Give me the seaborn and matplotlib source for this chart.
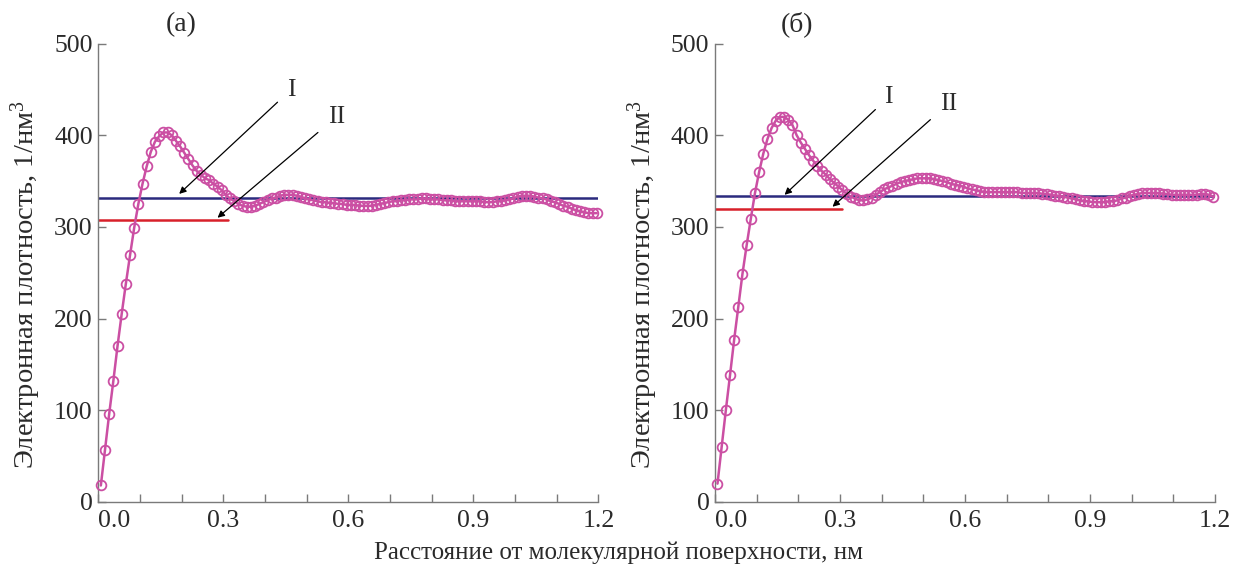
import numpy as np
import pandas as pd
import matplotlib
matplotlib.use("Agg")
import matplotlib.pyplot as plt
import seaborn as sns

# ---------------- data ----------------
x_start = 0.006
x_step = 0.01
n_points = 120
distance = np.round(x_start + x_step * np.arange(n_points), 4)

density_a = [
    18, 57, 96, 132, 170, 205, 238, 269, 299, 325,
    347, 366, 382, 393, 399, 403, 403, 400, 394, 388,
    381, 374, 367, 361, 357, 353, 351, 347, 344, 340,
    335, 331, 328, 325, 323, 322, 322, 323, 325, 327,
    329, 331, 332, 334, 335, 335, 335, 334, 333, 331,
    330, 329, 328, 327, 327, 326, 326, 325, 325, 324,
    324, 324, 323, 323, 323, 323, 324, 325, 326, 327,
    328, 328, 329, 329, 330, 330, 330, 331, 331, 330,
    330, 330, 329, 329, 329, 328, 328, 328, 328, 328,
    328, 328, 327, 327, 327, 328, 328, 329, 330, 331,
    333, 334, 334, 334, 333, 332, 331, 330, 328, 327,
    325, 323, 322, 320, 318, 317, 316, 315, 315, 315,
]

density_b = [
    20, 60, 100, 138, 177, 213, 249, 280, 309, 337,
    360, 380, 396, 408, 416, 420, 420, 417, 411, 400,
    392, 385, 378, 372, 366, 361, 357, 352, 348, 344,
    340, 336, 333, 331, 329, 329, 330, 332, 335, 338,
    341, 343, 345, 347, 349, 350, 351, 352, 353, 353,
    353, 353, 352, 351, 350, 349, 347, 346, 345, 344,
    342, 341, 340, 339, 338, 338, 338, 338, 338, 338,
    338, 338, 338, 337, 337, 337, 337, 337, 336, 336,
    335, 334, 334, 333, 332, 331, 330, 329, 328, 328,
    327, 327, 327, 327, 328, 328, 329, 331, 332, 334,
    335, 336, 337, 337, 337, 337, 337, 336, 336, 335,
    335, 335, 335, 335, 335, 335, 336, 336, 335, 333,
]

# reference levels: (value, x_end)
level_I = {"a": (332, 1.2), "b": (334, 1.2)}
level_II = {"a": (308, 0.31), "b": (320, 0.305)}

panel_titles = {"a": "(а)", "b": "(б)"}
x_ticks = [0.0, 0.3, 0.6, 0.9, 1.2]
x_tick_labels = ["0.0", "0.3", "0.6", "0.9", "1.2"]
y_ticks = [0, 100, 200, 300, 400, 500]

# annotation geometry (data coords): text pos, arrow start, arrow end
ann = {
    "a": {"I": ((0.452, 449), (0.43, 436), (0.194, 336)),
          "II": ((0.552, 420), (0.527, 403), (0.286, 310))},
    "b": {"I": ((0.405, 442), (0.385, 428), (0.167, 335)),
          "II": ((0.54, 434), (0.517, 417), (0.282, 322))},
}

ylabel = "Электронная плотность, 1/нм$^3$"
xlabel = "Расстояние от молекулярной поверхности, нм"

# ---------------- style ----------------
sns.set_theme(style="ticks")
plt.rcParams["font.family"] = ["Liberation Serif", "DejaVu Serif"]
plt.rcParams["mathtext.fontset"] = "custom"
plt.rcParams["mathtext.rm"] = "Liberation Serif"
plt.rcParams["mathtext.it"] = "Liberation Serif"

curve_color = "#cb4fa3"
blue_color = "#2b2a7e"
red_color = "#d8202a"
axis_color = "#7a7a7a"
text_color = "#2a2a2a"

fig = plt.figure(figsize=(12.37, 5.66), dpi=100)
ax_a = fig.add_axes([0.0795, 0.1131, 0.4042, 0.81])
ax_b = fig.add_axes([0.578, 0.1131, 0.4042, 0.81])

df_a = pd.DataFrame({"x": distance, "y": density_a})
df_b = pd.DataFrame({"x": distance, "y": density_b})

for key, ax, df in (("a", ax_a, df_a), ("b", ax_b, df_b)):
    vI, eI = level_I[key]
    vII, eII = level_II[key]
    ax.plot([0, eI], [vI, vI], color=blue_color, lw=1.8, zorder=2)
    ax.plot([0, eII], [vII, vII], color=red_color, lw=1.8, zorder=2)

    sns.lineplot(data=df, x="x", y="y", ax=ax, color=curve_color,
                 linewidth=1.8, marker="o", markersize=7,
                 markerfacecolor="none", markeredgecolor=curve_color,
                 markeredgewidth=1.3, clip_on=False, zorder=3)

    ax.set_xlim(0, 1.2)
    ax.set_ylim(0, 500)
    ax.set_xticks(x_ticks)
    ax.set_xticklabels(x_tick_labels)
    ax.set_xticks(np.arange(0.1, 1.2, 0.1), minor=True)
    ax.set_yticks(y_ticks)
    ax.tick_params(axis="both", which="both", direction="in",
                   color=axis_color, labelsize=18.5, labelcolor=text_color,
                   width=1.0)
    ax.tick_params(axis="x", which="major", pad=6)
    ax.tick_params(axis="y", which="major", pad=4)
    ax.tick_params(axis="both", which="major", length=6)
    ax.tick_params(axis="x", which="minor", length=6)
    for s in ("top", "right"):
        ax.spines[s].set_visible(False)
    for s in ("left", "bottom"):
        ax.spines[s].set_color(axis_color)
        ax.spines[s].set_linewidth(1.0)
    ax.set_xlabel("")
    ax.set_ylabel(ylabel, fontsize=20.5, color=text_color)
    ax.yaxis.set_label_coords(-0.11, 0.475)
    ax.xaxis.get_majorticklabels()[0].set_horizontalalignment("left")

    ax.text(0.165, 1.015, panel_titles[key], transform=ax.transAxes,
            ha="center", va="bottom", fontsize=20, color=text_color)

    for lab, (tpos, start, end) in ann[key].items():
        ax.annotate("", xy=end, xytext=start,
                    arrowprops=dict(arrowstyle="-|>", color="black",
                                    lw=0.9, mutation_scale=10,
                                    shrinkA=0, shrinkB=0))
        ax.text(tpos[0], tpos[1], lab, ha="left", va="center",
                fontsize=18.5, color=text_color)

fig.text(0.5, 0.004, xlabel, ha="center", va="bottom", fontsize=18,
         color=text_color)

fig.savefig("out.png", dpi=100)
